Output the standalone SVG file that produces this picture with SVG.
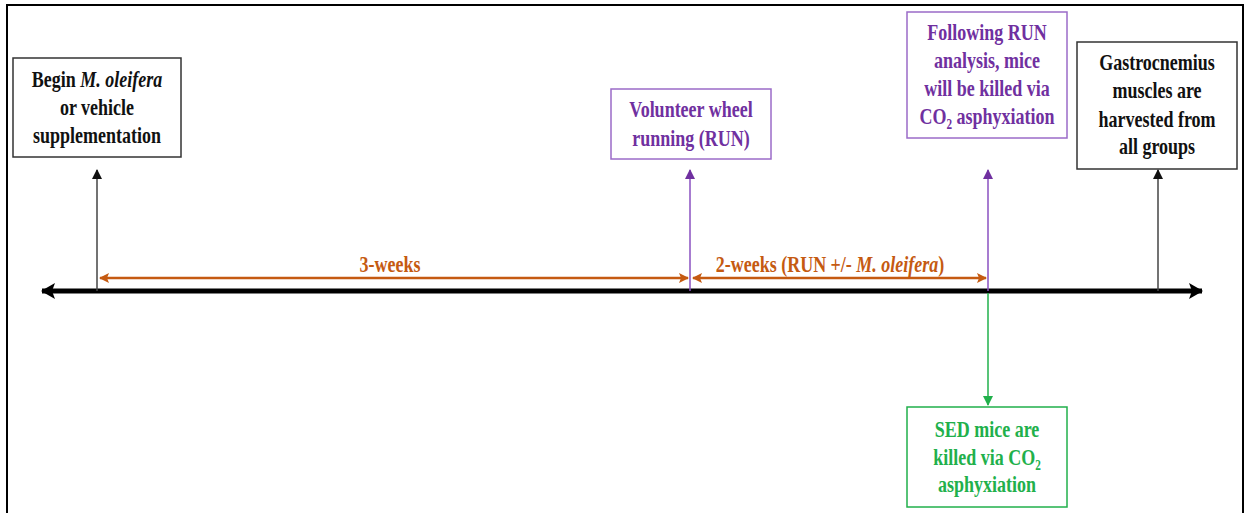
<svg xmlns="http://www.w3.org/2000/svg" width="1245" height="513" viewBox="0 0 1245 513">
<style>
.t{font-family:"Liberation Serif","Times New Roman",serif;font-weight:bold;font-size:22.5px;text-anchor:middle}
.k{fill:#111}
.p{fill:#7030A0}
.g{fill:#21B04B}
.o{fill:#C55A11}
.i{font-style:italic}
.box{fill:#fff;stroke-width:1.5}
</style>
<defs>
<marker id="ak" viewBox="0 0 10 10" refX="9" refY="5" markerWidth="10" markerHeight="10" markerUnits="userSpaceOnUse" orient="auto"><path d="M0,0 L10,5 L0,10 z" fill="#111"/></marker>
<marker id="ap" viewBox="0 0 10 10" refX="9" refY="5" markerWidth="10" markerHeight="10" markerUnits="userSpaceOnUse" orient="auto"><path d="M0,0 L10,5 L0,10 z" fill="#7030A0"/></marker>
<marker id="ag" viewBox="0 0 10 10" refX="9" refY="5" markerWidth="10" markerHeight="10" markerUnits="userSpaceOnUse" orient="auto"><path d="M0,0 L10,5 L0,10 z" fill="#21B04B"/></marker>
<marker id="ao" viewBox="0 0 10 10" refX="9" refY="5" markerWidth="11" markerHeight="10" markerUnits="userSpaceOnUse" orient="auto-start-reverse"><path d="M0,0 L10,5 L0,10 L2,5 z" fill="#C55A11"/></marker>
<marker id="at" viewBox="0 0 14 16" refX="13" refY="8" markerWidth="14" markerHeight="16" markerUnits="userSpaceOnUse" orient="auto-start-reverse"><path d="M0,0 L14,8 L0,16 L3,8 z" fill="#000"/></marker>
</defs>
<rect width="1245" height="513" fill="#fff"/>
<rect x="7" y="5" width="1236" height="520" fill="none" stroke="#000" stroke-width="2"/>

<g id="connectors">
<line x1="42" y1="291" x2="1202" y2="291" stroke="#000" stroke-width="5" marker-end="url(#at)" marker-start="url(#at)"/>
<line x1="97" y1="291" x2="97" y2="170" stroke="#444" stroke-width="1.5" marker-end="url(#ak)"/>
<line x1="690" y1="291" x2="690" y2="170" stroke="#8A50C0" stroke-width="1.5" marker-end="url(#ap)"/>
<line x1="988" y1="291" x2="988" y2="170" stroke="#8A50C0" stroke-width="1.5" marker-end="url(#ap)"/>
<line x1="1158" y1="291" x2="1158" y2="170" stroke="#444" stroke-width="1.5" marker-end="url(#ak)"/>
<line x1="988" y1="293" x2="988" y2="405" stroke="#21B04B" stroke-width="1.5" marker-end="url(#ag)"/>
<line x1="100" y1="278" x2="688" y2="278" stroke="#C55A11" stroke-width="2.5" marker-start="url(#ao)" marker-end="url(#ao)"/>
<line x1="693" y1="278" x2="986" y2="278" stroke="#C55A11" stroke-width="2.5" marker-start="url(#ao)" marker-end="url(#ao)"/>
<text class="t o" transform="translate(390,272) scale(0.8,1)">3-weeks</text>
<text class="t o" transform="translate(830,272) scale(0.8,1)">2-weeks (RUN +/- <tspan class="i">M. oleifera</tspan>)</text>
</g>

<g id="begin">
<rect class="box" x="13" y="58" width="168" height="99" stroke="#333"/>
<text class="t k" transform="translate(97,87) scale(0.8,1)">Begin <tspan class="i">M. oleifera</tspan></text>
<text class="t k" transform="translate(97,115) scale(0.8,1)">or vehicle</text>
<text class="t k" transform="translate(97,143) scale(0.8,1)">supplementation</text>
</g>

<g id="run">
<rect class="box" x="611" y="89" width="160" height="70" stroke="#9B6BC8"/>
<text class="t p" transform="translate(691,117) scale(0.8,1)">Volunteer wheel</text>
<text class="t p" transform="translate(691,146) scale(0.8,1)">running (RUN)</text>
</g>

<g id="following">
<rect class="box" x="907" y="12" width="160" height="126" stroke="#9B6BC8"/>
<text class="t p" transform="translate(987,40) scale(0.8,1)">Following RUN</text>
<text class="t p" transform="translate(987,68) scale(0.8,1)">analysis, mice</text>
<text class="t p" transform="translate(987,96) scale(0.8,1)">will be killed via</text>
<text class="t p" transform="translate(987,124) scale(0.8,1)">CO<tspan font-size="14" dy="5">2</tspan><tspan dy="-5"> asphyxiation</tspan></text>
</g>

<g id="gastro">
<rect class="box" x="1077" y="42" width="160" height="127" stroke="#333"/>
<text class="t k" transform="translate(1157,70) scale(0.8,1)">Gastrocnemius</text>
<text class="t k" transform="translate(1157,98) scale(0.8,1)">muscles are</text>
<text class="t k" transform="translate(1157,127) scale(0.8,1)">harvested from</text>
<text class="t k" transform="translate(1157,154) scale(0.8,1)">all groups</text>
</g>

<g id="sed">
<rect class="box" x="907" y="407" width="160" height="100" stroke="#21B04B"/>
<text class="t g" transform="translate(987,437) scale(0.8,1)">SED mice are</text>
<text class="t g" transform="translate(987,465) scale(0.8,1)">killed via CO<tspan font-size="14" dy="5">2</tspan></text>
<text class="t g" transform="translate(987,492) scale(0.8,1)">asphyxiation</text>
</g>
</svg>
